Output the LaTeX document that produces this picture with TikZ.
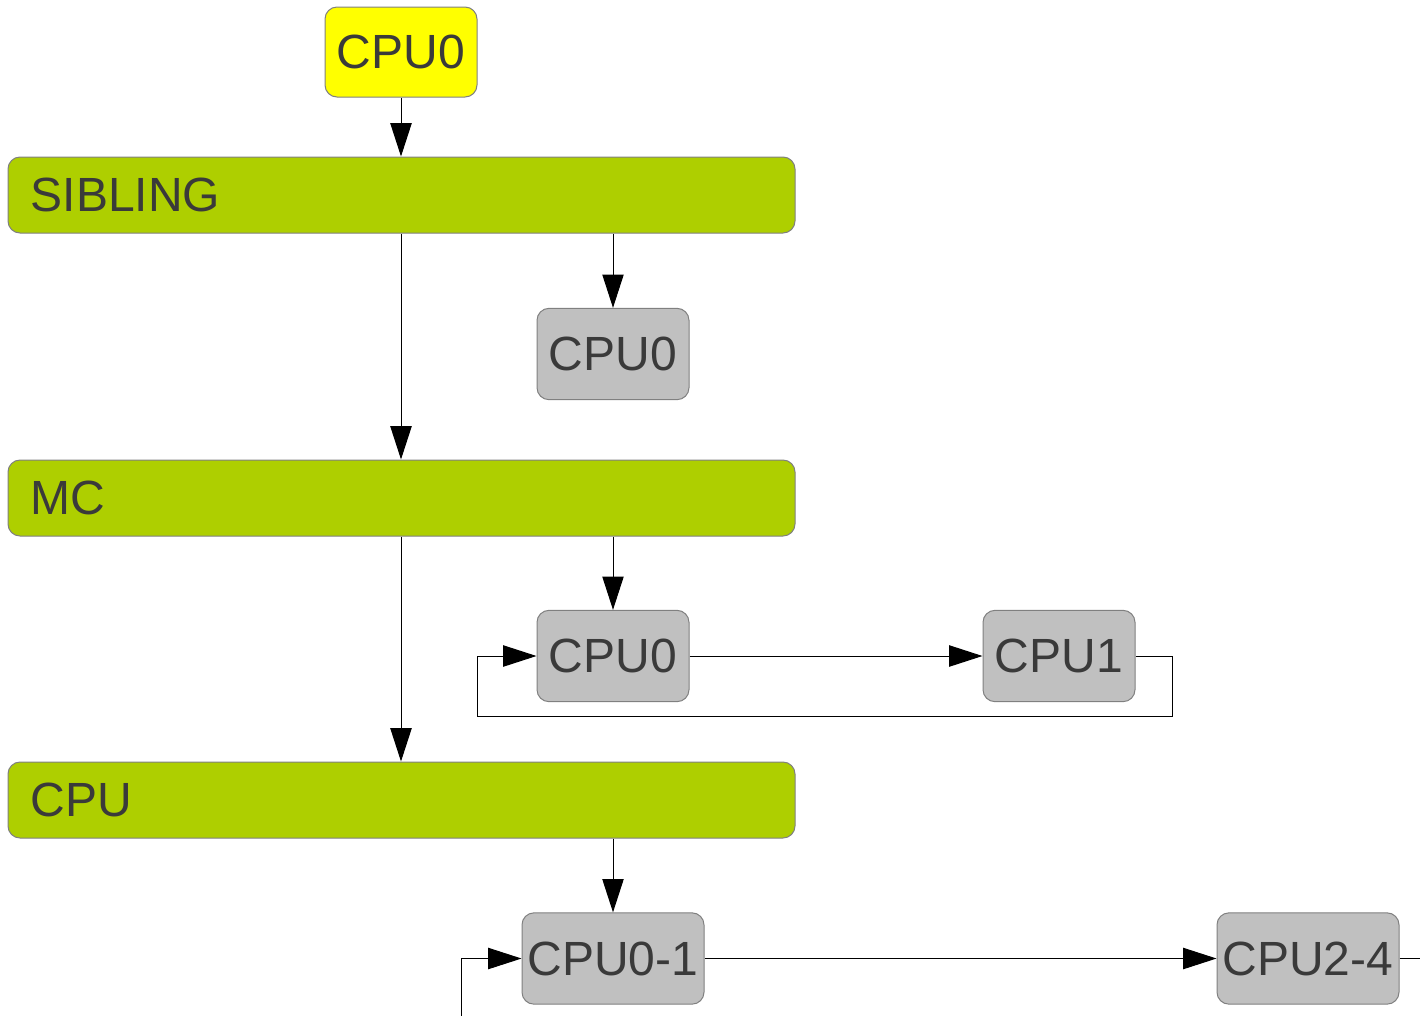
\documentclass[tikz,border=0pt]{standalone}
\usepackage{fontspec}
\setmainfont{Liberation Sans}
\usetikzlibrary{arrows.meta}
\definecolor{cpuyellow}{HTML}{FFFF00}
\definecolor{bargreen}{HTML}{AECF00}
\definecolor{cpugray}{HTML}{C0C0C0}
\definecolor{edgegray}{HTML}{808080}
\definecolor{txt}{HTML}{3A3A3A}
\begin{document}
\begin{tikzpicture}[x=0.75pt,y=-0.75pt,
  box/.style={draw=edgegray, line width=0.75pt, rounded corners=9pt, inner sep=0pt,
    text=txt, font=\fontsize{36}{40}\selectfont},
  cpubox/.style={box, fill=cpugray, minimum width=114pt, minimum height=68.5pt},
  widebox/.style={box, fill=cpugray, minimum width=136.5pt, minimum height=68.5pt},
  topbox/.style={box, fill=cpuyellow, minimum width=114pt, minimum height=67.5pt},
  bar/.style={box, fill=bargreen, minimum width=590.25pt, minimum height=57pt,
    inner xsep=17pt, text width=556.25pt, align=left},
  arr/.style={draw=black, line width=0.75pt, -{Triangle[length=25pt,width=16pt]}},
  ln/.style={draw=black, line width=0.75pt}]
\useasboundingbox (0,0) rectangle (1420,1015);
\fill[white] (0,0) rectangle (1420,1015);
\node[topbox] (top) at (401,52) {CPU0};
\node[bar] (sib) at (401.5,195) {SIBLING};
\node[bar] (mc) at (401.5,498) {MC};
\node[bar] (cpu) at (401.5,800) {CPU};
\node[cpubox] (ca) at (613,354) {CPU0};
\node[cpubox] (cb) at (613,656) {CPU0};
\node[cpubox] (c1) at (1059,656) {CPU1};
\node[widebox] (c01) at (613,958.5) {CPU0-1};
\node[widebox] (c24) at (1308,958.5) {CPU2-4};
\coordinate (l1) at (1172,716);
\coordinate (l2) at (477,716);
\coordinate (in) at (461,1020);
\coordinate (out) at (1425,958.5);
\draw[arr] (top.south) -- (top.south |- sib.north);
\draw[arr] (sib.south -| top.south) -- (mc.north -| top.south);
\draw[arr] (mc.south -| top.south) -- (cpu.north -| top.south);
\draw[arr] (sib.south -| ca.north) -- (ca.north);
\draw[arr] (mc.south -| cb.north) -- (cb.north);
\draw[arr] (cpu.south -| c01.north) -- (c01.north);
\draw[arr] (cb.east) -- (c1.west);
\draw[arr] (c1.east) -| (l1) -- (l2) |- (cb.west);
\draw[arr] (c01.east) -- (c24.west);
\draw[arr] (in) |- (c01.west);
\draw[ln] (c24.east) -- (out);
\end{tikzpicture}
\end{document}
